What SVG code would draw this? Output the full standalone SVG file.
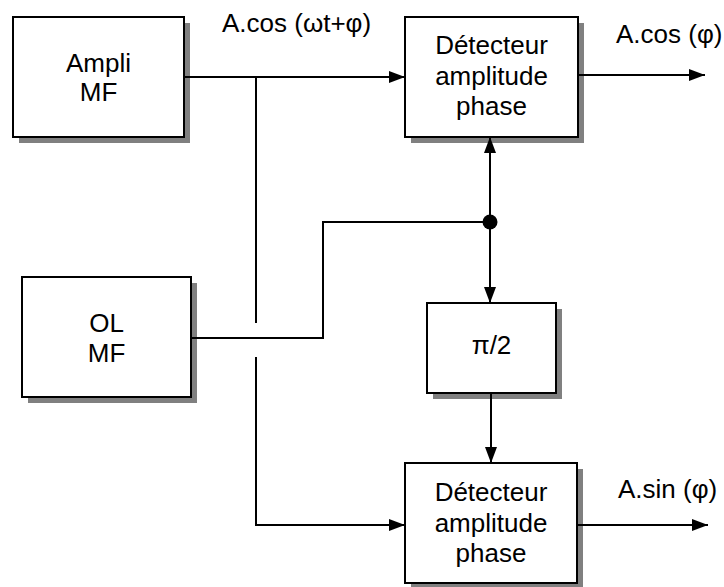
<svg xmlns="http://www.w3.org/2000/svg" width="724" height="587" viewBox="0 0 724 587">
<style>
.box{fill:#fff;stroke:#000;stroke-width:2}
.sh{fill:#808080}
.t{font-family:"Liberation Sans",Arial,sans-serif;font-size:26px;fill:#000}
.c{text-anchor:middle}
.w{fill:none;stroke:#000;stroke-width:2}
</style>
<defs>
<marker id="ah" markerUnits="userSpaceOnUse" markerWidth="16" markerHeight="12" refX="16" refY="6" orient="auto">
<path d="M0,0 L16,6 L0,12 z" fill="#000"/>
</marker>
</defs>
<g id="ampli">
<rect class="sh" x="19" y="23" width="171" height="120"/>
<rect class="box" x="13" y="17" width="171" height="120"/>
<text class="t c" x="98.5" y="72">Ampli</text>
<text class="t c" x="98.5" y="101">MF</text>
</g>
<g id="ol">
<rect class="sh" x="28" y="283" width="169" height="120"/>
<rect class="box" x="22" y="277" width="169" height="120"/>
<text class="t c" x="106.5" y="332">OL</text>
<text class="t c" x="106.5" y="362">MF</text>
</g>
<g id="det1">
<rect class="sh" x="411" y="23" width="173" height="120"/>
<rect class="box" x="405" y="17" width="173" height="120"/>
<text class="t c" x="491.5" y="54">Détecteur</text>
<text class="t c" x="491.5" y="85">amplitude</text>
<text class="t c" x="491.5" y="115">phase</text>
</g>
<g id="phase">
<rect class="sh" x="433" y="309" width="129" height="90"/>
<rect class="box" x="427" y="303" width="129" height="90"/>
<text class="t c" x="491.5" y="354">π/2</text>
</g>
<g id="det2">
<rect class="sh" x="411" y="469" width="172" height="120"/>
<rect class="box" x="405" y="463" width="172" height="120"/>
<text class="t c" x="491" y="501">Détecteur</text>
<text class="t c" x="491" y="532">amplitude</text>
<text class="t c" x="491" y="562">phase</text>
</g>
<g id="connectors">
<line class="w" x1="184" y1="77" x2="405" y2="77" marker-end="url(#ah)"/>
<line class="w" x1="256" y1="77" x2="256" y2="323"/>
<polyline class="w" points="191,338 323,338 323,222 490,222"/>
<line class="w" x1="490" y1="222" x2="490" y2="137" marker-end="url(#ah)"/>
<line class="w" x1="490" y1="222" x2="490" y2="303" marker-end="url(#ah)"/>
<circle cx="490" cy="222" r="7.5" fill="#000"/>
<line class="w" x1="491" y1="393" x2="491" y2="463" marker-end="url(#ah)"/>
<polyline class="w" points="256,357 256,525 405,525" marker-end="url(#ah)"/>
<line class="w" x1="578" y1="75" x2="705" y2="75" marker-end="url(#ah)"/>
<line class="w" x1="577" y1="525" x2="708" y2="525" marker-end="url(#ah)"/>
</g>
<g id="labels">
<text class="t" x="222" y="32">A.cos (ωt+φ)</text>
<text class="t" x="616" y="43">A.cos (φ)</text>
<text class="t" x="618" y="498">A.sin (φ)</text>
</g>
</svg>
